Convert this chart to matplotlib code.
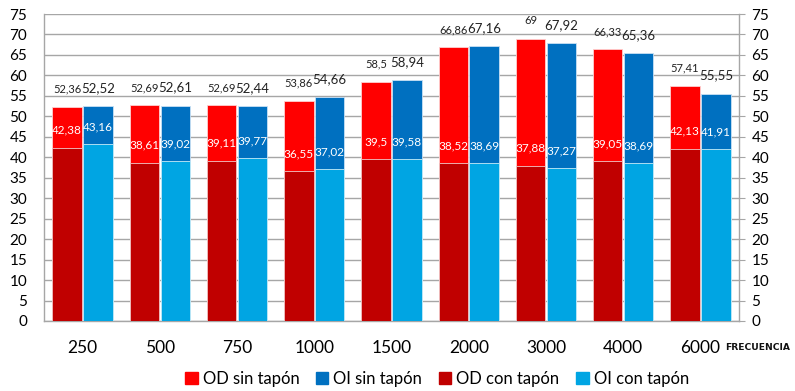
import numpy as np
import matplotlib
matplotlib.use("Agg")
import matplotlib.pyplot as plt
from matplotlib.patches import Patch

plt.rcParams['font.family'] = ['Lato', 'DejaVu Sans']

freqs = ['250', '500', '750', '1000', '1500', '2000', '3000', '4000', '6000']
od_sin = [52.36, 52.69, 52.69, 53.86, 58.5, 66.86, 69, 66.33, 57.41]
oi_sin = [52.52, 52.61, 52.44, 54.66, 58.94, 67.16, 67.92, 65.36, 55.55]
od_con = [42.38, 38.61, 39.11, 36.55, 39.5, 38.52, 37.88, 39.05, 42.13]
oi_con = [43.16, 39.02, 39.77, 37.02, 39.58, 38.69, 37.27, 38.69, 41.91]

c_od_sin = '#FF0000'
c_oi_sin = '#0070C0'
c_od_con = '#C00000'
c_oi_con = '#00A5E3'

def fmt(v):
    s = ('%.2f' % v).rstrip('0').rstrip('.')
    return s.replace('.', ',')

fig = plt.figure(figsize=(7.95, 3.91), dpi=100)
ax = fig.add_axes([44/795, 1 - 321/391, (739 - 44)/795, (321 - 14)/391])

x = np.arange(len(freqs))
w = 0.38
off = 0.2

ax.bar(x - off, od_sin, w, color=c_od_sin, edgecolor='#FFD0D0', linewidth=0.6, zorder=2)
ax.bar(x + off, oi_sin, w, color=c_oi_sin, edgecolor='#C8E0F4', linewidth=0.6, zorder=2)
ax.bar(x - off, od_con, w, color=c_od_con, edgecolor='#F0C8C8', linewidth=0.6, zorder=3)
ax.bar(x + off, oi_con, w, color=c_oi_con, edgecolor='#C8ECF8', linewidth=0.6, zorder=3)

for i in range(len(freqs)):
    ax.text(x[i] - off, od_sin[i] + 4.3, fmt(od_sin[i]), ha='center', va='center',
            fontsize=8, color='#222222', zorder=5)
    ax.text(x[i] + off, oi_sin[i] + 4.4, fmt(oi_sin[i]), ha='center', va='center',
            fontsize=9.5, color='#222222', zorder=5)
    ax.text(x[i] - off, od_con[i] + 4.3, fmt(od_con[i]), ha='center', va='center',
            fontsize=8.5, color='white', zorder=5)
    ax.text(x[i] + off, oi_con[i] + 4.2, fmt(oi_con[i]), ha='center', va='center',
            fontsize=8.5, color='white', zorder=5)

ax.set_xlim(-0.5, len(freqs) - 0.5)
ax.set_ylim(0, 75)
ax.set_yticks(np.arange(0, 76, 5))
ax.grid(axis='y', color='#A6A6A6', linewidth=1.0, zorder=0)
ax.set_axisbelow(True)

ax.set_xticks(x)
ax.set_xticklabels(freqs, fontsize=12.5)
ax.tick_params(axis='x', length=0, pad=14)
ax.tick_params(axis='y', length=0, labelsize=11, pad=12)

for s in ['left', 'right', 'bottom']:
    ax.spines[s].set_color('#A6A6A6')
    ax.spines[s].set_linewidth(1.0)
ax.spines['top'].set_visible(False)

ax2 = ax.twinx()
ax2.set_ylim(0, 75)
ax2.set_yticks(np.arange(0, 76, 5))
ax2.tick_params(axis='y', length=4, color='#A6A6A6', labelsize=11, pad=5)
for s in ['left', 'right', 'bottom', 'top']:
    ax2.spines[s].set_visible(False)

fig.text(725/795, 1 - 347/391, 'FRECUENCIA', fontsize=6.6, fontweight='bold',
         family='DejaVu Sans', ha='left', va='center', color='#111111')

handles = [Patch(color=c_od_sin), Patch(color=c_oi_sin),
           Patch(color=c_od_con), Patch(color=c_oi_con)]
labels = ['OD sin tapón', 'OI sin tapón', 'OD con tapón', 'OI con tapón']
fig.legend(handles, labels, loc='center', bbox_to_anchor=(437/795, 1 - 379/391),
           ncol=4, frameon=False, fontsize=12, handlelength=0.75, handleheight=0.75,
           handletextpad=0.3, columnspacing=1.0)

fig.savefig('out.png', dpi=100)
